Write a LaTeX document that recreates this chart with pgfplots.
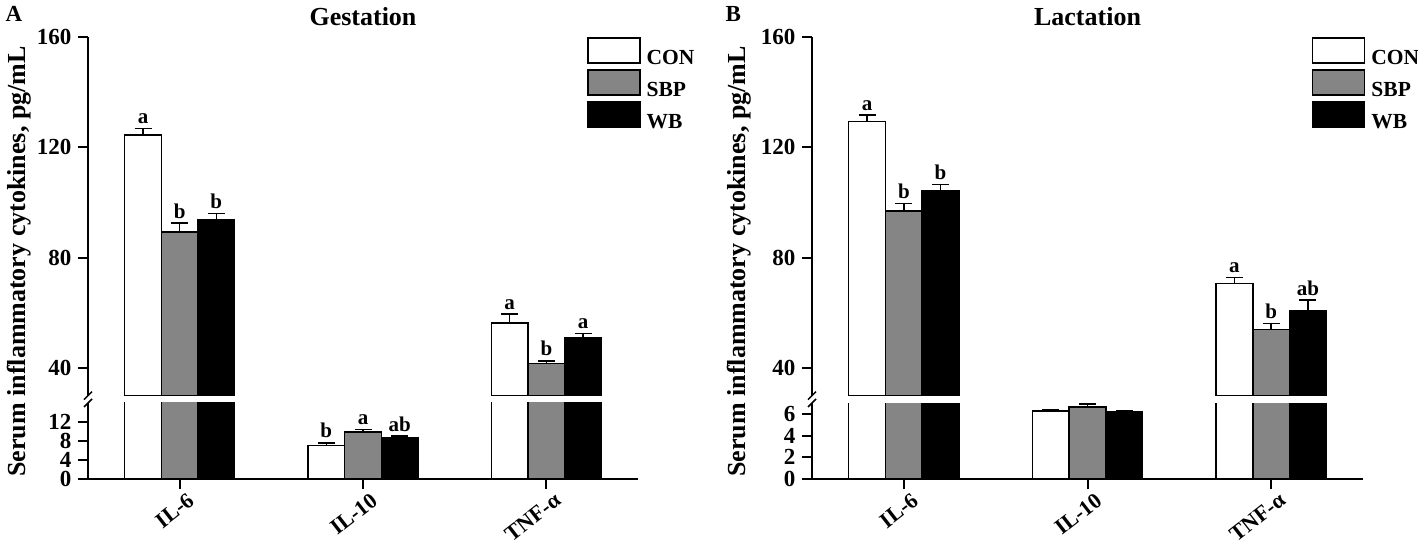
\documentclass[border=0pt]{standalone}
\usepackage{pgfplots}
\pgfplotsset{compat=1.18}
\usepackage{pgfplotstable}
\usepackage{fontspec}
\setmainfont{Liberation Serif}
\definecolor{sbpgray}{RGB}{133,133,133}
\newcommand{\ticfont}{\fontsize{23}{27}\selectfont\bfseries}
\newcommand{\labfont}{\fontsize{21}{25}\selectfont\bfseries}

\pgfplotstableread{
x con conerr sbp sbperr wb wberr
0 124.5 2.4 89.3 3.2 93.6 2.5
1 7.05 0.55 9.9 0.5 8.6 0.4
2 56.4 3.1 41.7 0.9 50.9 1.7
}\tabA
\pgfplotstableread{
x con conerr sbp sbperr wb wberr
0 129.3 2.4 97.0 2.7 104.2 2.4
1 6.25 0.12 6.63 0.3 6.2 0.1
2 70.6 2.3 54.0 2.2 60.8 3.8
}\tabB

\tikzset{lab/.style={anchor=base, yshift=5pt, font=\labfont}}
\pgfplotsset{
  brk/.style={scale only axis, xmin=-0.5, xmax=2.5, ybar, bar width=0.2,
    clip mode=individual,
    axis line style={line width=2pt, black},
    tick style={line width=2pt, black},
    major tick length=10pt, tick align=outside,
    tick label style={font=\ticfont},
    /pgf/number format/assume math mode=true,
    yticklabel style={xshift=-3pt},
    legend image code/.code={\draw[#1, line width=1.5pt] (0pt,-5pt) rectangle (52pt,20pt);},
  },
  upper/.style={brk, width=#1, height=358.6pt, ymin=30, ymax=160, ytick={40,80,120,160},
    axis x line=none, axis y line*=left, xtick=\empty,
    legend style={at={(0.907,1.0)}, anchor=north west, draw=none, fill=none, inner sep=0pt,
      row sep=3.5pt, font=\fontsize{21.5}{25}\selectfont\bfseries,
      nodes={inner sep=0pt},
      /tikz/every odd column/.append style={column sep=6pt}},
    legend cell align=left},
  lower/.style={brk, width=#1, height=76pt, ymin=0,
    axis x line*=bottom, axis y line*=left, xtick={0,1,2},
    xticklabels={IL-6,IL-10,TNF-α},
    xticklabel style={rotate=38, anchor=north east, xshift=7pt, yshift=-3pt,
      font=\fontsize{22}{26}\selectfont\bfseries}},
  con/.style={fill=white, draw=black, line width=1.5pt, bar shift=-0.2},
  sbp/.style={fill=sbpgray, draw=black, line width=1.5pt, bar shift=0},
  wb/.style={fill=black, draw=black, line width=1.5pt, bar shift=0.2},
  eb/.style={error bars/y dir=plus, error bars/y explicit,
    error bars/error bar style={line width=1.5pt, black},
    error bars/error mark options={rotate=90, line width=1.5pt, mark size=8.5pt, black}},
  up/.style={restrict y to domain=30:1000},
}

\begin{document}
\begin{tikzpicture}
\useasboundingbox (0,0) rectangle (1418pt,546pt);
% ---------- Panel A upper
\begin{axis}[upper=550pt, at={(88pt,150.4pt)}, anchor=south west]
\addplot[con, eb, up] table[x=x, y=con, y error=conerr] {\tabA};
\addplot[sbp, eb, up] table[x=x, y=sbp, y error=sbperr] {\tabA};
\addplot[wb, eb, up] table[x=x, y=wb, y error=wberr] {\tabA};
\legend{CON,SBP,WB}
\node[lab] at (axis cs:-0.2,126.9) {a};
\node[lab] at (axis cs:0,92.5) {b};
\node[lab] at (axis cs:0.2,96.1) {b};
\node[lab] at (axis cs:1.8,59.5) {a};
\node[lab] at (axis cs:2,42.6) {b};
\node[lab] at (axis cs:2.2,52.6) {a};
\draw[line width=1.5pt] (rel axis cs:0,0) ++(-4pt,-4pt) -- ++(8pt,8pt);
\end{axis}
% ---------- Panel A lower
\begin{axis}[lower=550pt, at={(88pt,67pt)}, anchor=south west, ymax=16, ytick={0,4,8,12}]
\addplot[con, eb] table[x=x, y=con, y error=conerr] {\tabA};
\addplot[sbp, eb] table[x=x, y=sbp, y error=sbperr] {\tabA};
\addplot[wb, eb] table[x=x, y=wb, y error=wberr] {\tabA};
\node[lab] at (axis cs:0.8,7.6) {b};
\node[lab] at (axis cs:1,10.4) {a};
\node[lab] at (axis cs:1.2,9.0) {ab};
\draw[line width=1.5pt] (rel axis cs:0,1) ++(-4pt,-4pt) -- ++(8pt,8pt);
\end{axis}
% ---------- Panel B upper
\begin{axis}[upper=551pt, at={(812pt,150.4pt)}, anchor=south west]
\addplot[con, eb, up] table[x=x, y=con, y error=conerr] {\tabB};
\addplot[sbp, eb, up] table[x=x, y=sbp, y error=sbperr] {\tabB};
\addplot[wb, eb, up] table[x=x, y=wb, y error=wberr] {\tabB};
\legend{CON,SBP,WB}
\node[lab] at (axis cs:-0.2,131.7) {a};
\node[lab] at (axis cs:0,99.7) {b};
\node[lab] at (axis cs:0.2,106.6) {b};
\node[lab] at (axis cs:1.8,72.9) {a};
\node[lab] at (axis cs:2,56.2) {b};
\node[lab] at (axis cs:2.2,64.6) {ab};
\draw[line width=1.5pt] (rel axis cs:0,0) ++(-4pt,-4pt) -- ++(8pt,8pt);
\end{axis}
% ---------- Panel B lower
\begin{axis}[lower=551pt, at={(812pt,67pt)}, anchor=south west, ymax=7, ytick={0,2,4,6}]
\addplot[con, eb] table[x=x, y=con, y error=conerr] {\tabB};
\addplot[sbp, eb] table[x=x, y=sbp, y error=sbperr] {\tabB};
\addplot[wb, eb] table[x=x, y=wb, y error=wberr] {\tabB};
\draw[line width=1.5pt] (rel axis cs:0,1) ++(-4pt,-4pt) -- ++(8pt,8pt);
\end{axis}
% ---------- titles and labels
\node[anchor=base, font=\fontsize{26}{30}\selectfont\bfseries] at (363pt,520pt) {Gestation};
\node[anchor=base, font=\fontsize{26}{30}\selectfont\bfseries] at (1087.5pt,520pt) {Lactation};
\node[anchor=base west, font=\fontsize{23}{27}\selectfont\bfseries] at (2pt,524pt) {A};
\node[anchor=base west, font=\fontsize{23}{27}\selectfont\bfseries] at (722pt,524pt) {B};
\node[rotate=90, anchor=base, font=\fontsize{26}{30}\selectfont\bfseries] at (25pt,284.5pt) {Serum inflammatory cytokines, pg/mL};
\node[rotate=90, anchor=base, font=\fontsize{26}{30}\selectfont\bfseries] at (745pt,284.5pt) {Serum inflammatory cytokines, pg/mL};
\end{tikzpicture}
\end{document}
